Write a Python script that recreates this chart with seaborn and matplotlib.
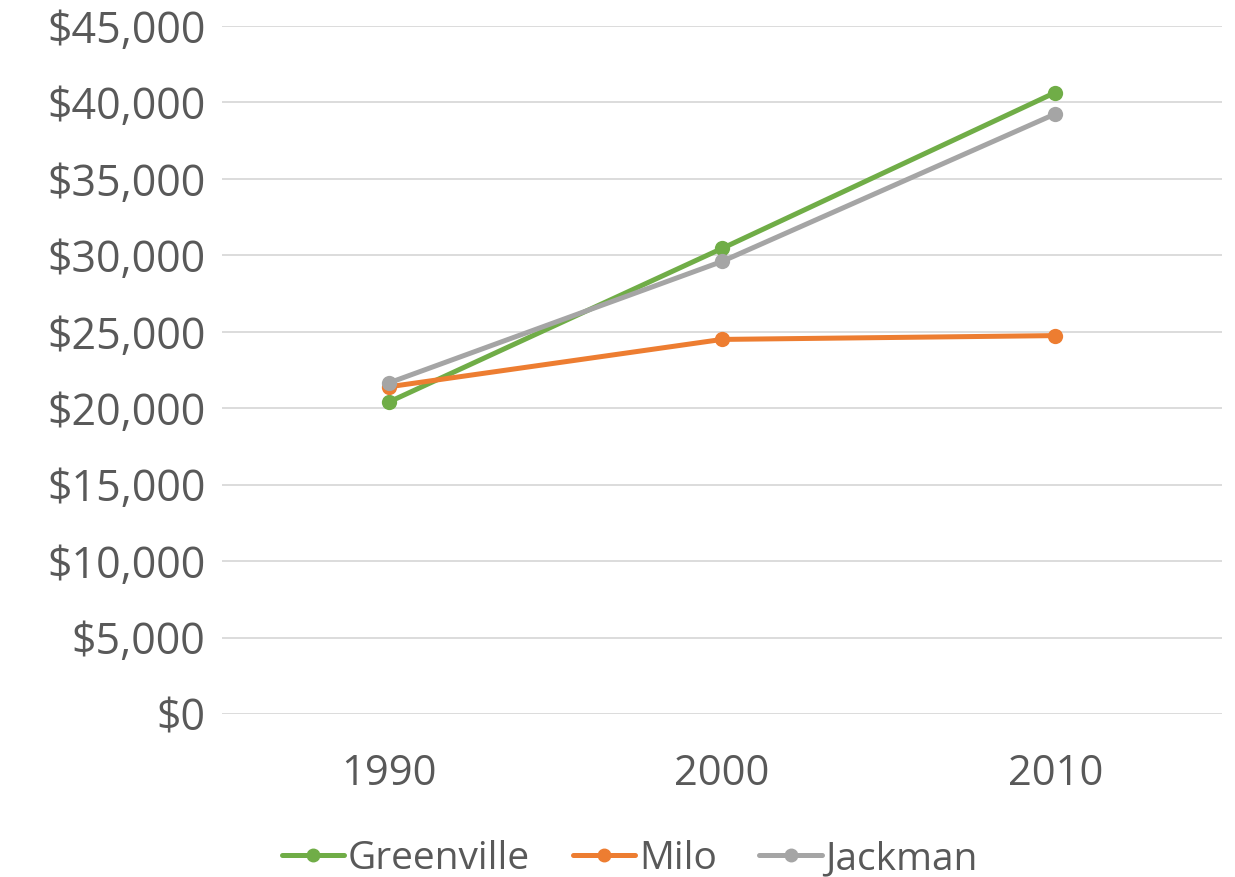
import numpy as np
import pandas as pd
import seaborn as sns
import matplotlib.pyplot as plt
from matplotlib.ticker import FuncFormatter
from matplotlib.lines import Line2D

# data
years = [1990, 2000, 2010]
towns = ["Greenville", "Milo", "Jackman"]
greenville = [20400, 30450, 40650]
milo = [21400, 24500, 24750]
jackman = [21650, 29600, 39250]
colors = ["#70AD47", "#ED7D31", "#A5A5A5"]

df = pd.DataFrame({
    "year": years * 3,
    "income": greenville + milo + jackman,
    "town": [t for t in towns for _ in years],
})

sns.set_theme(style="white")
plt.rcParams["font.family"] = ["Open Sans", "DejaVu Sans"]
text_col = "#595959"

fig = plt.figure(figsize=(12.35, 8.77), dpi=100)
ax = fig.add_axes([222 / 1235, 163 / 877, 1000 / 1235, 688 / 877])

sns.lineplot(data=df, x="year", y="income", hue="town", hue_order=towns,
             palette=colors, marker="o", markersize=11, markeredgewidth=0,
             linewidth=3.6, ax=ax, legend=False)

ax.set_xlim(1985, 2015)
ax.set_ylim(0, 45000)
ax.set_yticks(np.arange(0, 45001, 5000))
ax.set_xticks(years)
ax.yaxis.set_major_formatter(FuncFormatter(lambda v, p: f"${v:,.0f}"))
ax.grid(axis="y", color="#D9D9D9", linewidth=1.3)
ax.set_axisbelow(True)
for s in ax.spines.values():
    s.set_visible(False)
ax.tick_params(axis="y", length=0, pad=12, labelsize=31, labelcolor=text_col)
ax.tick_params(axis="x", length=0, pad=28, labelsize=30, labelcolor=text_col)
ax.set_xlabel("")
ax.set_ylabel("")

handles = [Line2D([0], [0], color=c, linewidth=3.6, marker="o", markersize=9)
           for c in colors]
fig.legend(handles, towns, loc="center", bbox_to_anchor=(0.51, 18 / 877),
           ncol=3, frameon=False, fontsize=28, labelcolor=text_col,
           handlelength=1.6, handletextpad=0.1, columnspacing=1.1)

fig.savefig("out.png", dpi=100)
